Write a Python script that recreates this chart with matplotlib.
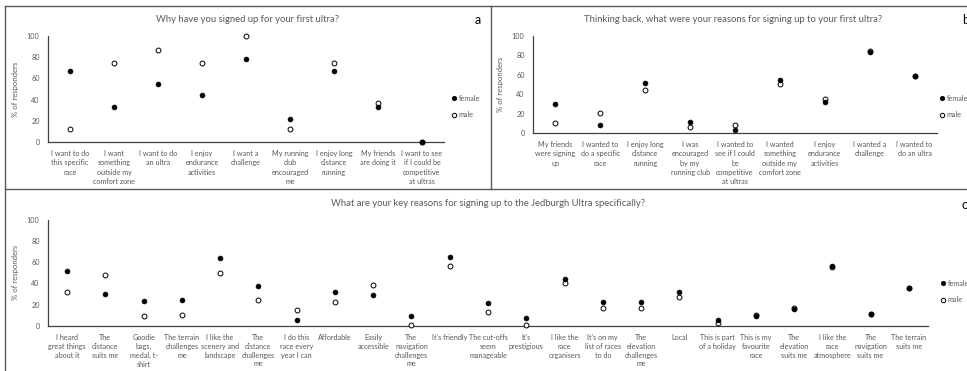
import matplotlib
matplotlib.use("Agg")
import matplotlib.pyplot as plt
from matplotlib.lines import Line2D
from matplotlib.patches import Rectangle

plt.rcParams['font.family'] = ['Lato', 'DejaVu Sans']

# ---------------- data ----------------
cats_a = ["I want to do\nthis specific\nrace", "I want\nsomething\noutside my\ncomfort zone",
          "I want to do\nan ultra", "I enjoy\nendurance\nactivities", "I want a\nchallenge",
          "My running\nclub\nencouraged\nme", "I enjoy long\ndistance\nrunning",
          "My friends\nare doing it", "I want to see\nif I could be\ncompetitive\nat ultras"]
female_a = [67, 33, 55, 44, 78, 22, 67, 33, 0]
male_a = [12, 75, 87, 75, 100, 12, 75, 37, 0]

cats_b = ["My friends\nwere signing\nup", "I wanted to\ndo a specific\nrace",
          "I enjoy long\ndistance\nrunning", "I was\nencouraged\nby my\nrunning club",
          "I wanted to\nsee if I could\nbe\ncompetitive\nat ultras",
          "I wanted\nsomething\noutside my\ncomfort zone", "I enjoy\nendurance\nactivities",
          "I wanted a\nchallenge", "I wanted to\ndo an ultra"]
female_b = [30, 8, 52, 11, 3, 55, 32, 83, 59]
male_b = [10, 21, 44, 6, 8, 51, 35, 85, 59]

cats_c = ["I heard\ngreat things\nabout it", "The\ndistance\nsuits me", "Goodie\nbags,\nmedal, t-\nshirt",
          "The terrain\nchallenges\nme", "I like the\nscenery and\nlandscape",
          "The\ndistance\nchallenges\nme", "I do this\nrace every\nyear I can", "Affordable",
          "Easily\naccessible", "The\nnavigation\nchallenges\nme", "It's friendly",
          "The cut-offs\nseem\nmanageable", "It's\nprestigious", "I like the\nrace\norganisers",
          "It's on my\nlist of races\nto do", "The\nelevation\nchallenges\nme", "Local",
          "This is part\nof a holiday", "This is my\nfavourite\nrace", "The\nelevation\nsuits me",
          "I like the\nrace\natmosphere", "The\nnavigation\nsuits me", "The terrain\nsuits me"]
female_c = [52, 30, 23, 24, 64, 37, 5, 32, 29, 9, 65, 21, 7, 44, 22, 22, 32, 5, 9, 16, 56, 11, 36]
male_c = [32, 48, 9, 10, 50, 24, 15, 22, 38, 1, 56, 13, 1, 40, 17, 17, 27, 3, 10, 17, 55, 11, 36]

yticks = [0, 20, 40, 60, 80, 100]
series_names = ["female", "male"]

titles = ["Why have you signed up for your first ultra?",
          "Thinking back, what were your reasons for signing up to your first ultra?",
          "What are your key reasons for signing up to the Jedburgh Ultra specifically?"]
letters = ["a", "b", "c"]

# ---------------- figure ----------------
W, H = 967, 371
fig = plt.figure(figsize=(W / 100, H / 100), dpi=100)
fig.patch.set_facecolor("white")

GREY = "#595959"

def fx(px):
    return px / W

def fy(py):
    return 1 - py / H

def make_axes(x0, x1, y100, y0):
    return fig.add_axes([fx(x0), fy(y0), fx(x1 - x0), (y0 - y100) / H])

axA = make_axes(48, 444, 36, 142)
axB = make_axes(533, 937, 36, 133)
axC = make_axes(48, 928, 219.7, 325.7)

panels = [(axA, cats_a, female_a, male_a, 1.36), (axB, cats_b, female_b, male_b, 1.36),
          (axC, cats_c, female_c, male_c, 1.3)]

for ax, cats, fem, mal, ls in panels:
    x = list(range(len(cats)))
    ax.plot(x, mal, linestyle="none", marker="o", markersize=3.5, markerfacecolor="white",
            markeredgecolor="black", markeredgewidth=0.7, clip_on=False, zorder=3)
    ax.plot(x, fem, linestyle="none", marker="o", markersize=3.5, markerfacecolor="black",
            markeredgecolor="black", markeredgewidth=0.5, clip_on=False, zorder=4)
    ax.set_xlim(-0.5, len(cats) - 0.5)
    ax.set_ylim(0, 100)
    ax.set_yticks(yticks)
    ax.set_xticks(x)
    ax.set_xticklabels(cats, fontsize=5.2, color=GREY, linespacing=ls)
    ax.tick_params(axis="both", length=0, labelsize=5.2, labelcolor=GREY)
    ax.tick_params(axis="x", pad=6)
    ax.tick_params(axis="y", pad=6)
    for s in ["top", "right"]:
        ax.spines[s].set_visible(False)
    for s in ["left", "bottom"]:
        ax.spines[s].set_color("#404040")
        ax.spines[s].set_linewidth(0.9)
    ax.set_ylabel("% of responders", fontsize=5.6, color=GREY, labelpad=6)
    ax.patch.set_alpha(0)

axC.set_zorder(2)
axA.set_zorder(0)
axB.set_zorder(0)

# white cover so top-panel labels are cut just above the separator line
fig.patches.append(Rectangle((0, 0), 1, fy(184), transform=fig.transFigure,
                             facecolor="white", edgecolor="none", zorder=1))

# titles
fig.text(fx(248), fy(19), titles[0], ha="center", va="center", fontsize=6.8, color=GREY)
fig.text(fx(733), fy(19), titles[1], ha="center", va="center", fontsize=6.8, color=GREY)
fig.text(fx(488), fy(203), titles[2], ha="center", va="center", fontsize=6.8, color=GREY, zorder=3)

# panel letters (partly cut by the right edge, as in the source)
fig.text(fx(478), fy(20), letters[0], ha="center", va="center", fontsize=9, color="black")
fig.text(fx(962), fy(20), letters[1], ha="left", va="center", fontsize=9, color="black")
fig.text(fx(962), fy(205), letters[2], ha="left", va="center", fontsize=9, color="black", zorder=3)

# legends
handles = [Line2D([], [], linestyle="none", marker="o", markersize=3.2, markerfacecolor="black",
                  markeredgecolor="black", markeredgewidth=0.5),
           Line2D([], [], linestyle="none", marker="o", markersize=3.2, markerfacecolor="white",
                  markeredgecolor="black", markeredgewidth=0.7)]
for ax, (lx, ly) in [(axA, (452, 95)), (axB, (940, 95)), (axC, (941, 280))]:
    leg = ax.legend(handles, series_names, loc="upper left", bbox_to_anchor=(fx(lx), fy(ly)),
                    bbox_transform=fig.transFigure, frameon=False, fontsize=5.2,
                    handlelength=0.6, handletextpad=0.3, labelspacing=1.3, borderpad=0,
                    borderaxespad=0)
    for t in leg.get_texts():
        t.set_color(GREY)

# panel borders
lc = "#595959"
lw = 1.0
fig.add_artist(Line2D([fx(5), 1], [fy(6), fy(6)], transform=fig.transFigure, color=lc, lw=lw, zorder=5))
fig.add_artist(Line2D([fx(5), fx(5)], [fy(6), 0], transform=fig.transFigure, color=lc, lw=lw, zorder=5))
fig.add_artist(Line2D([fx(491), fx(491)], [fy(6), fy(189)], transform=fig.transFigure, color=lc, lw=lw, zorder=5))
fig.add_artist(Line2D([fx(5), 1], [fy(189), fy(189)], transform=fig.transFigure, color=lc, lw=lw, zorder=5))

fig.savefig("out.png", dpi=100, facecolor="white")
